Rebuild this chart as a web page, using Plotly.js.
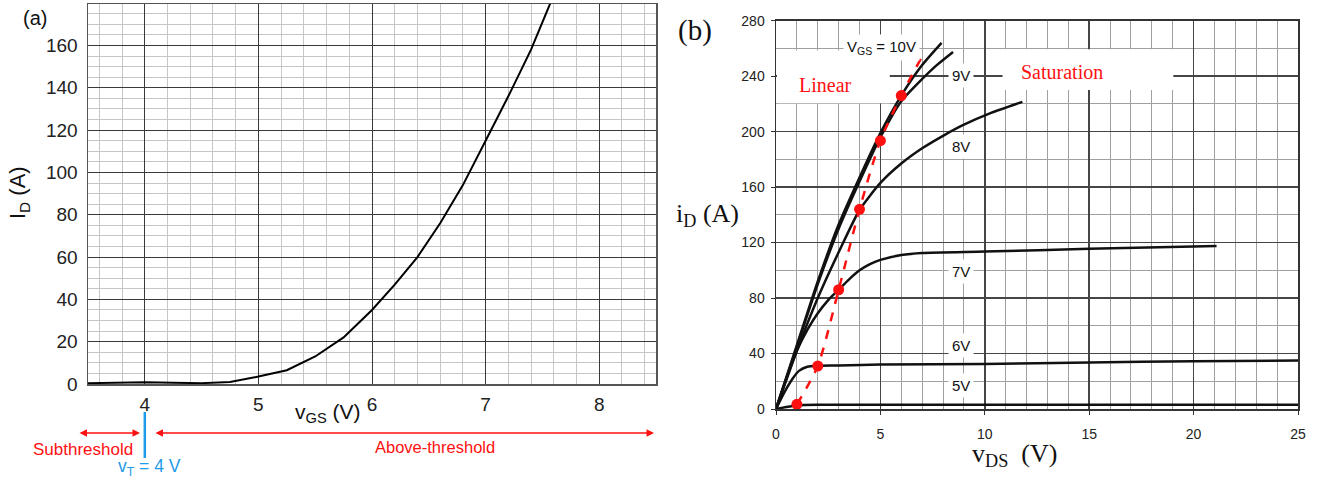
<!DOCTYPE html>
<html>
<head>
<meta charset="utf-8">
<script src="https://cdn.plot.ly/plotly-3.0.1.min.js"></script>
<style>
  html, body { margin: 0; padding: 0; background: #fff; }
  #chart { width: 1317px; height: 480px; }
</style>
</head>
<body>
<div id="chart"></div>
<script>
// (a) transfer characteristic: drain current vs gate-source voltage
const vgs = [3.5, 3.75, 4.0, 4.25, 4.5, 4.75, 5.0, 5.25, 5.5, 5.75, 6.0, 6.2, 6.4, 6.6, 6.8, 7.0, 7.2, 7.4, 7.57];
const idTransfer = [0.4, 0.6, 0.8, 0.6, 0.4, 1.0, 3.5, 6.5, 13, 22, 35, 47, 60, 76, 94, 115, 136, 158, 180];
const vT = 4;

// (b) output characteristics: drain current vs drain-source voltage, one curve per gate voltage
const vds10 = [0, 1, 2, 3, 4, 5, 6, 7, 7.93];
const id10  = [0, 46, 92, 133, 167, 199, 226, 248, 264];
const vds9  = [0, 1, 2, 3, 4, 5, 6, 7, 7.7, 8.48];
const id9   = [0, 45, 90, 130, 164, 196, 222, 238, 248, 257.5];
const vds8  = [0, 1, 2, 3, 4, 5, 6, 7, 8, 9, 10.3, 11.8];
const id8   = [0, 42, 80, 113, 143.5, 163, 177, 188, 197, 205, 213.5, 221.5];
const vds7  = [0, 0.5, 1, 1.5, 2, 2.5, 3, 3.5, 4, 4.5, 5, 6, 7, 10, 15, 21.1];
const id7   = [0, 22, 42, 57, 69, 78.5, 86, 93.5, 100, 104.5, 107.5, 111, 112.5, 113.5, 115.5, 117.5];
const vds6  = [0, 0.4, 0.8, 1.1, 1.5, 2.0, 3.0, 5.0, 10.0, 15.0, 20.0, 25.0];
const id6   = [0, 12, 22, 27.5, 30.5, 31.2, 31.4, 32, 32.5, 33.5, 34.5, 35];
const vds5  = [0, 0.5, 1.0, 2.0, 25.0];
const id5   = [0, 1.5, 2.6, 3, 3];

// boundary between linear and saturation regions (dots at integer V_DS)
const vdsEdge = [1, 2, 3, 4, 5, 6, 6.97];
const idEdge  = [3.4, 31, 86, 144, 193.5, 226, 253.5];
const edgeDots = 6;

const gateLabels = ['9V', '8V', '7V', '6V', '5V'];

const SANS = 'Liberation Sans, Arial, sans-serif';
const SERIF = 'Liberation Serif, Times New Roman, serif';
const RED = '#ff1010';
const BLUE = '#1e9ae8';

const curveLine = { color: '#111', width: 2.5, shape: 'spline', smoothing: 0.6 };

function outCurve(x, y) {
  return { x, y, xaxis: 'x2', yaxis: 'y2', mode: 'lines', line: curveLine, hoverinfo: 'skip' };
}

const traces = [
  { x: vgs, y: idTransfer, xaxis: 'x', yaxis: 'y', mode: 'lines',
    line: { color: '#000', width: 2 }, hoverinfo: 'skip' },
  outCurve(vds5, id5),
  outCurve(vds6, id6),
  outCurve(vds7, id7),
  outCurve(vds8, id8),
  outCurve(vds9, id9),
  outCurve(vds10, id10),
  { x: vdsEdge, y: idEdge, xaxis: 'x2', yaxis: 'y2', mode: 'lines',
    line: { color: RED, width: 2.5, dash: 'dash', shape: 'spline', smoothing: 0.7 }, hoverinfo: 'skip' },
  { x: vdsEdge.slice(0, edgeDots), y: idEdge.slice(0, edgeDots), xaxis: 'x2', yaxis: 'y2', mode: 'markers',
    marker: { color: RED, size: 11 }, hoverinfo: 'skip' }
];

const W = 1317, H = 480;
const px = v => v / W;
const py = v => 1 - v / H;

const axisBase = {
  showline: true, mirror: true, zeroline: false, fixedrange: true, showgrid: true
};

// centred text placed in page pixels
function pageText(text, x, y, font, extra) {
  return Object.assign({ text, xref: 'paper', yref: 'paper', x: px(x), y: py(y),
    xanchor: 'center', yanchor: 'middle', showarrow: false, font }, extra || {});
}
function dataText(text, x, y, font, extra) {
  return Object.assign({ text, xref: 'x2', yref: 'y2', x, y,
    xanchor: 'center', yanchor: 'middle', showarrow: false, font }, extra || {});
}
function doubleArrow(x0, x1, y) {
  return { text: '', xref: 'paper', yref: 'paper', x: px(x1), y: py(y), ax: x0 - x1, ay: 0,
    showarrow: true, arrowside: 'end+start', arrowhead: 2, startarrowhead: 2,
    arrowsize: 1, startarrowsize: 1, arrowwidth: 1.5, arrowcolor: RED, standoff: 0, startstandoff: 0 };
}

const layout = {
  width: W, height: H,
  margin: { l: 0, r: 0, t: 0, b: 0 },
  paper_bgcolor: '#fff', plot_bgcolor: '#fff',
  showlegend: false,
  xaxis: Object.assign({}, axisBase, {
    domain: [px(88), px(656)], range: [3.5, 8.5], anchor: 'y',
    tick0: 0, dtick: 1, gridcolor: '#3a3a3a', gridwidth: 1,
    minor: { dtick: 0.2, showgrid: true, gridcolor: '#c6c6c6', gridwidth: 1 },
    linecolor: '#555', linewidth: 1.5, ticks: '',
    tickfont: { family: SANS, size: 19, color: '#222' }, ticklabelstandoff: 3
  }),
  yaxis: Object.assign({}, axisBase, {
    domain: [py(384), py(4)], range: [0, 179.6], anchor: 'x',
    tick0: 0, dtick: 20, gridcolor: '#3a3a3a', gridwidth: 1,
    minor: { dtick: 5, showgrid: true, gridcolor: '#c6c6c6', gridwidth: 1 },
    linecolor: '#555', linewidth: 1.5, ticks: '',
    tickfont: { family: SANS, size: 19, color: '#222' }, ticklabelstandoff: 5
  }),
  xaxis2: Object.assign({}, axisBase, {
    domain: [px(776), px(1298)], range: [0, 25], anchor: 'y2',
    tick0: 0, dtick: 5, gridcolor: '#454545', gridwidth: 1.5,
    minor: { dtick: 1, showgrid: true, gridcolor: '#a0a0a0', gridwidth: 1 },
    linecolor: '#333', linewidth: 1.5, ticks: 'outside', ticklen: 4, tickcolor: '#333',
    tickfont: { family: SANS, size: 14, color: '#222' }, ticklabelstandoff: 8
  }),
  yaxis2: Object.assign({}, axisBase, {
    domain: [py(409), py(20.7)], range: [0, 280], anchor: 'x2',
    tick0: 0, dtick: 40, gridcolor: '#454545', gridwidth: 1.5,
    minor: { dtick: 20, showgrid: true, gridcolor: '#a0a0a0', gridwidth: 1 },
    linecolor: '#333', linewidth: 1.5, ticks: 'outside', ticklen: 4, tickcolor: '#333',
    tickfont: { family: SANS, size: 14, color: '#222' }, ticklabelstandoff: 3
  }),
  shapes: [
    // threshold marker
    { type: 'line', xref: 'x', yref: 'paper', x0: vT, x1: vT, y0: py(458), y1: py(412),
      line: { color: BLUE, width: 2.5 } },
    // clear panels behind the region names
    { type: 'rect', layer: 'between', xref: 'x2', yref: 'y2', x0: 0.05, x1: 5.45, y0: 220.5, y1: 258.5,
      fillcolor: '#fff', line: { width: 0 } },
    { type: 'rect', layer: 'between', xref: 'x2', yref: 'y2', x0: 10.85, x1: 19.03, y0: 230, y1: 259.5,
      fillcolor: '#fff', line: { width: 0 } }
  ],
  annotations: [
    pageText('(a)', 34.5, 18, { family: SANS, size: 20, color: '#111' }),
    pageText('I<sub>D</sub> (A)', 19, 193, { family: SANS, size: 22, color: '#111' }, { textangle: -90 }),
    pageText('v<sub>GS</sub> (V)', 328, 413, { family: SANS, size: 21, color: '#111' }),
    pageText('Subthreshold', 83, 449, { family: SANS, size: 17, color: RED }),
    pageText('Above-threshold', 434.5, 447, { family: SANS, size: 16.5, color: RED }),
    pageText('v<sub>T</sub> = ' + vT + ' V', 149, 467, { family: SANS, size: 17.5, color: BLUE }),
    doubleArrow(78, 140, 433),
    doubleArrow(154, 654, 433),

    pageText('(b)', 695, 31, { family: SERIF, size: 29, color: '#111' }),
    pageText('i<sub>D</sub> (A)', 707, 215, { family: SERIF, size: 26, color: '#111' }),
    pageText('v<sub>DS</sub>\u00a0 (V)', 1014, 455, { family: SERIF, size: 26, color: '#111' }),
    dataText('Linear', 2.37, 233.5, { family: SERIF, size: 20, color: RED }),
    dataText('Saturation', 13.7, 243, { family: SERIF, size: 20, color: RED }),
    dataText('V<sub>GS</sub> = 10V', 5.05, 261, { family: SANS, size: 15, color: '#111' },
      { bgcolor: '#fff', borderpad: 3 })
  ]
};

// gate-voltage labels sit on white tabs to the right of the curves
const labelPos = [[8.86, 240.5], [8.86, 189.5], [8.86, 99.5], [8.86, 45.5], [8.86, 16.6]];
gateLabels.forEach((t, i) => {
  layout.annotations.push(dataText(t, labelPos[i][0], labelPos[i][1],
    { family: SANS, size: 15, color: '#111' }, { bgcolor: '#fff', borderpad: 3 }));
});

Plotly.newPlot('chart', traces, layout, { staticPlot: true, displayModeBar: false });
</script>
</body>
</html>
